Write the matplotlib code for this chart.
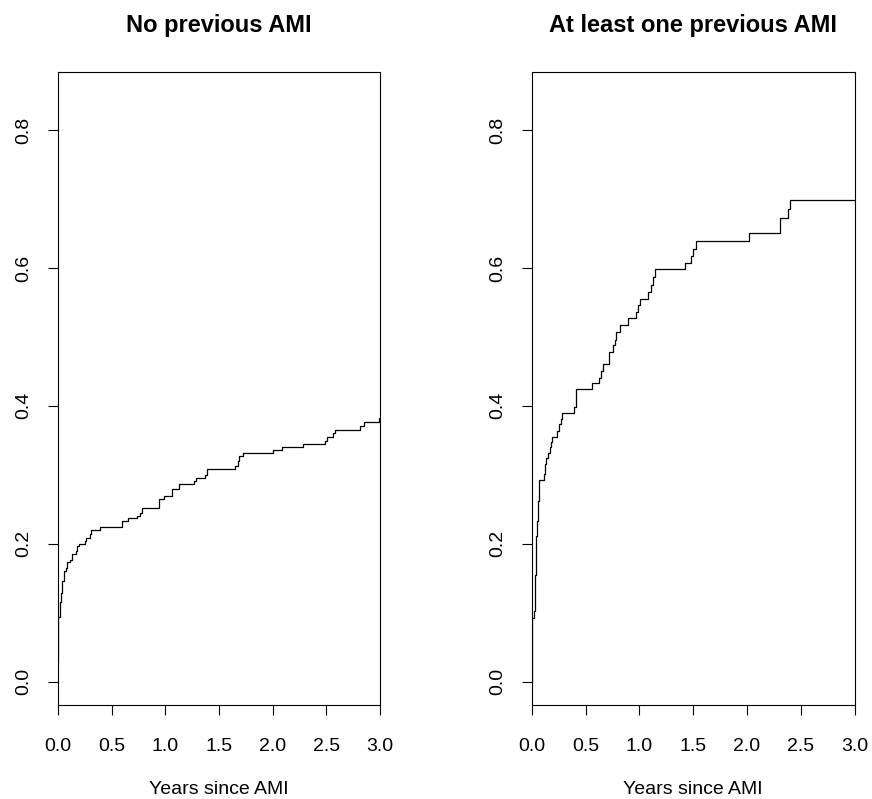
import matplotlib
matplotlib.use("Agg")
import matplotlib.pyplot as plt

# -- data: cumulative incidence step curves -----------------------------------
titles = ["No previous AMI", "At least one previous AMI"]
x_label = "Years since AMI"
x_ticks = [0.0, 0.5, 1.0, 1.5, 2.0, 2.5, 3.0]
y_ticks = [0.0, 0.2, 0.4, 0.6, 0.8]

t_none = [0.0, 0.003, 0.016, 0.031, 0.040, 0.053, 0.071, 0.084, 0.109, 0.127,
          0.164, 0.177, 0.200, 0.248, 0.264, 0.295, 0.310, 0.394, 0.599, 0.652,
          0.735, 0.760, 0.779, 0.940, 0.946, 0.984, 1.064, 1.132, 1.272, 1.288,
          1.371, 1.387, 1.654, 1.675, 1.691, 1.728, 2.000, 2.088, 2.280, 2.490,
          2.510, 2.560, 2.580, 2.820, 2.855, 2.990, 3.0]
ci_none = [0.030, 0.093, 0.115, 0.129, 0.146, 0.160, 0.165, 0.173, 0.177, 0.185,
           0.190, 0.197, 0.199, 0.204, 0.209, 0.214, 0.220, 0.224, 0.233, 0.237,
           0.240, 0.245, 0.252, 0.257, 0.265, 0.269, 0.279, 0.287, 0.291, 0.296,
           0.300, 0.309, 0.313, 0.320, 0.327, 0.332, 0.336, 0.341, 0.345, 0.349,
           0.355, 0.361, 0.365, 0.371, 0.377, 0.382, 0.382]

t_prev = [0.0, 0.003, 0.015, 0.025, 0.034, 0.043, 0.053, 0.065, 0.111, 0.121,
          0.133, 0.145, 0.164, 0.179, 0.186, 0.232, 0.251, 0.266, 0.281, 0.387,
          0.414, 0.557, 0.628, 0.643, 0.659, 0.718, 0.752, 0.770, 0.786, 0.817,
          0.897, 0.965, 0.984, 1.005, 1.083, 1.110, 1.126, 1.141, 1.423, 1.475,
          1.500, 1.528, 2.020, 2.304, 2.382, 2.400, 3.0]
ci_prev = [0.0, 0.092, 0.102, 0.155, 0.211, 0.233, 0.262, 0.292, 0.301, 0.315,
           0.325, 0.332, 0.340, 0.347, 0.355, 0.364, 0.373, 0.381, 0.390, 0.398,
           0.424, 0.433, 0.441, 0.450, 0.461, 0.478, 0.488, 0.496, 0.507, 0.517,
           0.527, 0.536, 0.546, 0.555, 0.565, 0.576, 0.587, 0.598, 0.607, 0.617,
           0.628, 0.639, 0.651, 0.673, 0.685, 0.698, 0.698]

plt.rcParams["font.family"] = ["Liberation Sans", "DejaVu Sans"]

fig = plt.figure(figsize=(8.72, 7.99), dpi=100)
axes = [fig.add_axes([0.0665, 0.1176, 0.369, 0.792]),
        fig.add_axes([0.610, 0.1176, 0.370, 0.792])]

for ax, title, t, ci in zip(axes, titles, [t_none, t_prev], [ci_none, ci_prev]):
    ax.step(t, ci, where="post", color="black", linewidth=0.9)
    ax.set_xlim(0, 3)
    ax.set_ylim(-0.034, 0.884)
    ax.set_xticks(x_ticks)
    ax.set_xticklabels([f"{v:.1f}" for v in x_ticks])
    ax.set_yticks(y_ticks)
    ax.set_yticklabels([f"{v:.1f}" for v in y_ticks], rotation=90, va="center")
    ax.tick_params(direction="out", length=7.5, width=0.8, labelsize=14)
    ax.tick_params(axis="x", pad=16)
    ax.tick_params(axis="y", pad=11)
    ax.set_title(title, fontsize=17, fontweight="bold", pad=29)
    ax.set_xlabel(x_label, fontsize=14, labelpad=19)
    for s in ax.spines.values():
        s.set_linewidth(0.8)

plt.savefig("out.png", dpi=100)
